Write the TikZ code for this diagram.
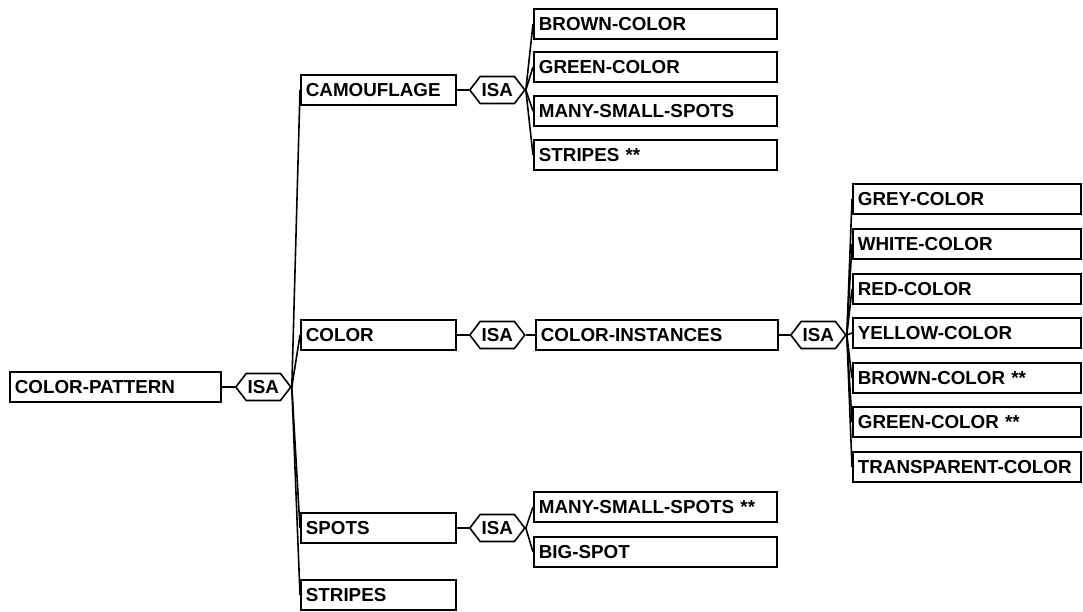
\documentclass[tikz,border=0pt]{standalone}
\usepackage{fontspec}
\setmainfont{Liberation Sans}
\usetikzlibrary{
  positioning,
  shapes.symbols
}

\begin{document}
\begin{tikzpicture}[
      x=1pt, y=-1pt,
      line width=1.6pt,
      font=\fontsize{18.8}{19}\selectfont\bfseries,
      framebox/.style={
        rectangle, draw=black, line width=1.8pt,
        text width=#1, align=left,
        minimum height=30pt, inner xsep=5pt, inner ysep=2pt,
        anchor=west
      },
      isabox/.style={
        signal, signal to=east and west, signal pointer angle=105,
        draw=black, line width=1.6pt,
        minimum width=55pt, minimum height=27pt, inner sep=1pt
      },
      isaline/.style={line width=1.6pt}
    ]
    \useasboundingbox (0,0) rectangle (1083,611);

    % Level 1: Root
    \node[framebox=201pt] (pattern) at (9,387) {COLOR-PATTERN};
    \node[isabox, right=13pt of pattern] (isaroot) {ISA};
    \draw[isaline] (pattern.east) -- (isaroot.west);

    % Level 2: four kinds of pattern
    \node[framebox=145pt] (camo)    at (300,90)  {CAMOUFLAGE};
    \node[framebox=145pt] (color)   at (300,335) {COLOR};
    \node[framebox=145pt] (spots)   at (300,528) {SPOTS};
    \node[framebox=145pt] (stripes) at (300,595) {STRIPES};

    \foreach \kid in {camo, color, spots, stripes}
      \draw[isaline] (isaroot.east) -- (\kid.west);

    % ISA nodes behind each kind
    \node[isabox, right=12pt of camo]  (isacamo)  {ISA};
    \node[isabox, right=12pt of color] (isacolor) {ISA};
    \node[isabox, right=12pt of spots] (isaspots) {ISA};
    \draw[isaline] (camo.east)  -- (isacamo.west);
    \draw[isaline] (color.east) -- (isacolor.west);
    \draw[isaline] (spots.east) -- (isaspots.west);

    % Level 3: camouflage members
    \foreach \nm/\txt/\yy in {cbrown/BROWN-COLOR/24, cgreen/GREEN-COLOR/67,
        cmany/MANY-SMALL-SPOTS/111, cstripes/STRIPES **/155} {
      \node[framebox=233pt] (\nm) at (533,\yy) {\txt};
      \draw[isaline] (isacamo.east) -- (\nm.west);
    }

    % Level 3: color instances
    \node[framebox=232pt] (colinst) at (535,335) {COLOR-INSTANCES};
    \draw[isaline] (isacolor.east) -- (colinst.west);
    \node[isabox, right=11pt of colinst] (isainst) {ISA};
    \draw[isaline] (colinst.east) -- (isainst.west);

    % Level 3: spot members
    \foreach \nm/\txt/\yy in {smany/MANY-SMALL-SPOTS **/507, sbig/BIG-SPOT/552} {
      \node[framebox=233pt] (\nm) at (533,\yy) {\txt};
      \draw[isaline] (isaspots.east) -- (\nm.west);
    }

    % Level 4: the single colours
    \foreach \nm/\txt/\yy in {grey/GREY-COLOR/199, white/WHITE-COLOR/244,
        red/RED-COLOR/289, yellow/YELLOW-COLOR/333, brown/BROWN-COLOR **/378,
        green/GREEN-COLOR **/422, transp/TRANSPARENT-COLOR/467} {
      \node[framebox=218pt] (\nm) at (852,\yy) {\txt};
      \draw[isaline] (isainst.east) -- (\nm.west);
    }
  \end{tikzpicture}
\end{document}
